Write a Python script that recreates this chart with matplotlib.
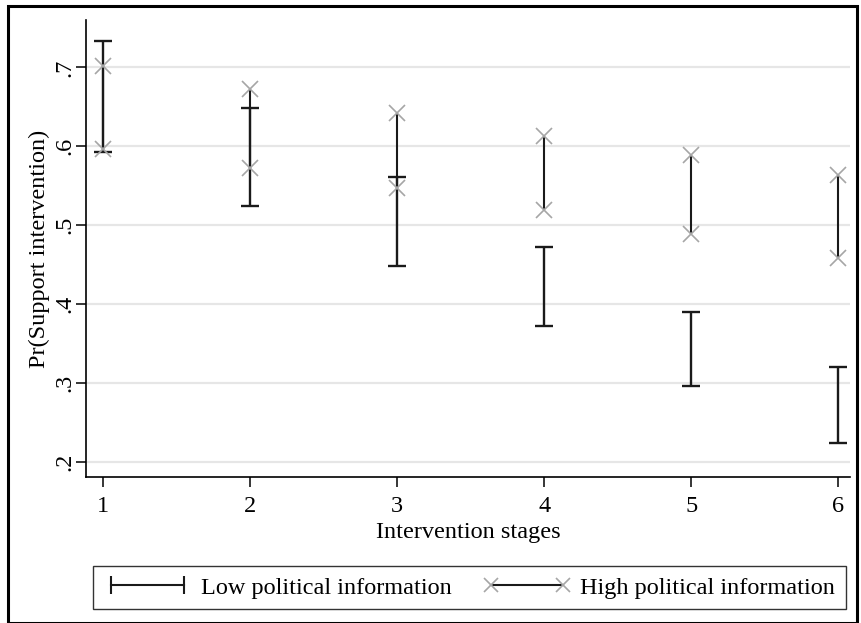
import matplotlib
matplotlib.use("Agg")
import matplotlib.pyplot as plt
from matplotlib.lines import Line2D
from matplotlib.patches import Rectangle

stages = [1, 2, 3, 4, 5, 6]
low_hi = [0.733, 0.648, 0.561, 0.472, 0.390, 0.320]
low_lo = [0.593, 0.524, 0.448, 0.372, 0.296, 0.224]
high_hi = [0.702, 0.672, 0.642, 0.613, 0.589, 0.563]
high_lo = [0.597, 0.572, 0.547, 0.519, 0.489, 0.458]
yticks = [0.2, 0.3, 0.4, 0.5, 0.6, 0.7]
ytick_labels = [".2", ".3", ".4", ".5", ".6", ".7"]

plt.rcParams['font.family'] = ['Liberation Serif', 'DejaVu Serif']

fig = plt.figure(figsize=(8.62, 6.23), dpi=100)
ax = fig.add_axes([86/862, 1-477/623, (850-86)/862, (477-20)/623])

ax.set_xlim(0.885, 6.08)
ax.set_ylim(0.181, 0.76)

for y in yticks:
    ax.axhline(y, color='#e6e6e6', lw=1.6, zorder=0)

# low
ax.vlines(stages, low_lo, low_hi, color='#1a1a1a', lw=1.7, zorder=2)
ax.plot(stages, low_hi, ls='none', marker='_', ms=12.5, mew=1.7, color='#1a1a1a', zorder=3)
ax.plot(stages, low_lo, ls='none', marker='_', ms=12.5, mew=1.7, color='#1a1a1a', zorder=3)
# high
ax.vlines(stages, high_lo, high_hi, color='#1a1a1a', lw=1.5, zorder=2)
ax.plot(stages, high_hi, ls='none', marker='x', ms=11, mew=1.2, color='#a6a6a6', zorder=4)
ax.plot(stages, high_lo, ls='none', marker='x', ms=11, mew=1.2, color='#a6a6a6', zorder=4)

for s in ['top', 'right']:
    ax.spines[s].set_visible(False)
ax.spines['left'].set_linewidth(1.2)
ax.spines['bottom'].set_linewidth(1.2)

ax.set_xticks(stages)
ax.set_xticklabels([str(s) for s in stages])
ax.set_yticks(yticks)
ax.set_yticklabels(ytick_labels, rotation=90, va='center')
ax.tick_params(axis='both', direction='out', length=7, width=1.1, labelsize=17.5)
ax.tick_params(axis='x', pad=7)
ax.tick_params(axis='y', pad=1)
ax.set_xlabel('Intervention stages', fontsize=17.5, labelpad=3)
ax.set_ylabel('Pr(Support intervention)', fontsize=17.5, labelpad=3)

handles = [
    Line2D([0], [0], color='#1a1a1a', lw=1.5, marker='|', ms=13, mew=1.5),
    Line2D([0], [0], color='#1a1a1a', lw=1.5, marker='x', ms=10, mew=1.2, markeredgecolor='#a6a6a6'),
]
leg = fig.legend(handles, ['Low political information', 'High political information'],
                 loc='center', bbox_to_anchor=(469.5/862, 1-587.5/623), ncol=2, numpoints=2,
                 fontsize=17.5, frameon=True, fancybox=False, handlelength=3.6,
                 columnspacing=1.3, handletextpad=0.4, borderpad=0.42, borderaxespad=0)
leg.get_frame().set_edgecolor('black')
leg.get_frame().set_linewidth(1.0)

fig.patches.append(Rectangle((8/862, 0), 849/862, 1-6/623, transform=fig.transFigure,
                             fill=False, edgecolor='black', lw=2.2))

fig.savefig('out.png', dpi=100)
